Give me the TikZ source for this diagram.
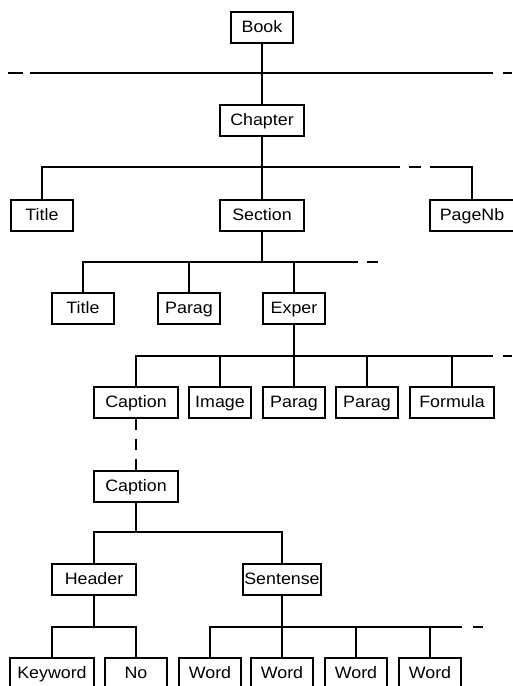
\documentclass[tikz,border=0pt]{standalone}
\usepackage{fontspec}
\setmainfont[FakeStretch=1.08]{Liberation Sans}

\begin{document}
\begin{tikzpicture}[x=1pt, y=-1pt, line width=2pt,
    box/.style={draw, minimum width=62pt, minimum height=31pt, inner sep=1pt,
        text height=12pt, text depth=1pt, font=\fontsize{16.5}{18}\selectfont},
    wide/.style={box, minimum width=84pt}]
        \useasboundingbox (0,0) rectangle (512,686);

        % nodes, row by row
        \node[box] (book) at (262,27) {Book};
        \node[wide] (chapter) at (262,120) {Chapter};
        \node[box] (title1) at (42,215) {Title};
        \node[wide] (section) at (262,215) {Section};
        \node[wide] (pagenb) at (472,215) {PageNb};
        \node[box] (title2) at (83,308) {Title};
        \node[box] (parag1) at (189,308) {Parag};
        \node[box] (exper) at (294,308) {Exper};
        \node[wide] (caption1) at (136,402) {Caption};
        \node[box] (image) at (220,402) {Image};
        \node[box] (parag2) at (294,402) {Parag};
        \node[box] (parag3) at (367,402) {Parag};
        \node[wide] (formula) at (452,402) {Formula};
        \node[wide] (caption2) at (136,486) {Caption};
        \node[wide] (header) at (94,579) {Header};
        \node[wide, minimum width=78pt] (sentense) at (282,579) {Sentense};
        \node[wide] (keyword) at (52,673) {Keyword};
        \node[box] (no) at (136,673) {No};
        \node[box] (word1) at (210,673) {Word};
        \node[box] (word2) at (282,673) {Word};
        \node[box] (word3) at (356,673) {Word};
        \node[box] (word4) at (430,673) {Word};

        \coordinate (railA) at (8,73);
        \coordinate (railAend) at (512,73);
        \coordinate (railB) at (262,167);
        \coordinate (railC) at (262,262);
        \coordinate (railCend) at (378,262);
        \coordinate (railD) at (294,356);
        \coordinate (railDend) at (512,356);
        \coordinate (railE) at (136,532);
        \coordinate (railF) at (94,627);
        \coordinate (railG) at (282,627);
        \coordinate (railGend) at (483,627);

        % book
        \draw (book) -- (chapter);
        \draw[dash pattern=on 15pt off 7pt on 463pt off 10pt on 20pt] (railA) -- (railAend);

        % chapter
        \draw (chapter) -- (section);
        \draw (title1) |- (railB);
        \draw[dash pattern=on 138pt off 9pt on 12pt off 9pt on 200pt] (railB) -| (pagenb);

        % section
        \draw (section) -- (railC);
        \draw (title2) |- (railC);
        \draw[dash pattern=on 96pt off 9pt on 11pt off 20pt] (railC) -- (railCend);
        \draw (parag1) -- (parag1 |- railC);
        \draw (exper) -- (exper |- railC);

        % exper
        \draw (exper) -- (parag2);
        \draw (caption1) |- (railD);
        \draw[dash pattern=on 199pt off 10pt on 20pt] (railD) -- (railDend);
        \draw (image) -- (image |- railD);
        \draw (parag3) -- (parag3 |- railD);
        \draw (formula) -- (formula |- railD);

        % caption
        \draw[dash pattern=on 11pt off 9pt] (caption1) -- (caption2);
        \draw (caption2) -- (railE);
        \draw (header) |- (railE) -| (sentense);

        % header, sentense
        \draw (header) -- (railF);
        \draw (keyword) |- (railF) -| (no);
        \draw (sentense) -- (word2);
        \draw (word1) |- (railG);
        \draw[dash pattern=on 180pt off 11pt on 10pt off 20pt] (railG) -- (railGend);
        \draw (word3) -- (word3 |- railG);
        \draw (word4) -- (word4 |- railG);
    \end{tikzpicture}
\end{document}
